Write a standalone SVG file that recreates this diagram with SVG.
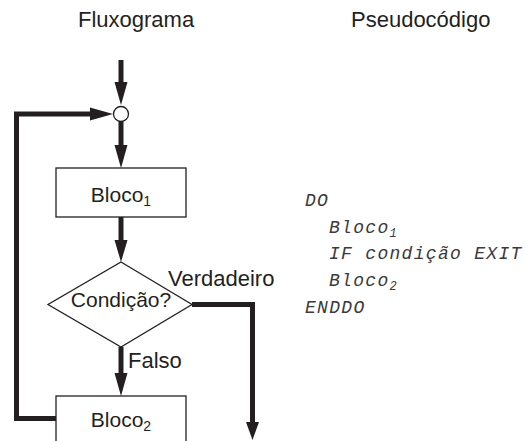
<svg xmlns="http://www.w3.org/2000/svg" width="525" height="441" viewBox="0 0 525 441">
  <defs>
    <style>
      .flow { fill: none; stroke: #231f20; stroke-width: 5; stroke-linejoin: miter; stroke-linecap: butt; }
      .shape { fill: #ffffff; stroke: #231f20; stroke-width: 1.3; }
      .head { fill: #231f20; stroke: none; }
      .lbl { font-family: "Liberation Sans", Arial, sans-serif; font-size: 22px; fill: #231f20; }
      .box { font-family: "Liberation Sans", Arial, sans-serif; font-size: 21px; fill: #231f20; text-anchor: middle; }
      .sub { font-size: 14px; }
      .code { font-family: "Liberation Mono", "DejaVu Sans Mono", monospace; font-style: italic; font-size: 18px; letter-spacing: 1.3px; fill: #3a3a3a; }
      .csub { font-size: 12px; }
    </style>
  </defs>

  <!-- column headings -->
  <text class="lbl" x="78" y="27">Fluxograma</text>
  <text class="lbl" x="351" y="27">Pseudocódigo</text>

  <!-- connectors -->
  <g id="connectors">
    <!-- entry into the junction -->
    <line class="flow" x1="121" y1="60" x2="121" y2="84"/>
    <path class="head" d="M114.5,82 L127.5,82 L121,105 Z"/>
    <!-- junction to Bloco1 -->
    <line class="flow" x1="121" y1="121" x2="121" y2="147"/>
    <path class="head" d="M114.5,145 L127.5,145 L121,168 Z"/>
    <!-- Bloco1 to decision -->
    <line class="flow" x1="121" y1="217" x2="121" y2="242"/>
    <path class="head" d="M114.5,240 L127.5,240 L121,262 Z"/>
    <!-- false branch to Bloco2 -->
    <line class="flow" x1="121" y1="347" x2="121" y2="375"/>
    <path class="head" d="M114.5,373 L127.5,373 L121,396 Z"/>
    <!-- true branch exits the loop -->
    <polyline class="flow" points="192,304.5 252.5,304.5 252.5,424"/>
    <path class="head" d="M246,422 L259,422 L252.5,440 Z"/>
    <!-- loop back from Bloco2 to the junction -->
    <polyline class="flow" points="56,418.5 16.5,418.5 16.5,114 92,114"/>
    <path class="head" d="M90,107.5 L90,120.5 L113,114 Z"/>
  </g>

  <!-- junction -->
  <g id="junction">
    <circle class="shape" cx="121" cy="114" r="7.5"/>
  </g>

  <!-- Bloco1 -->
  <g id="bloco1">
    <rect class="shape" x="56" y="168" width="130" height="49"/>
    <text class="box" x="121" y="202">Bloco<tspan class="sub" dy="4">1</tspan></text>
  </g>

  <!-- decision -->
  <g id="condicao">
    <polygon class="shape" points="121,262 192,304.5 121,347 48,304.5"/>
    <text class="box" x="121" y="307" font-size="22">Condição?</text>
  </g>

  <!-- Bloco2 -->
  <g id="bloco2">
    <rect class="shape" x="56" y="396" width="130" height="49"/>
    <text class="box" x="121" y="427">Bloco<tspan class="sub" dy="4">2</tspan></text>
  </g>

  <!-- branch labels -->
  <text class="lbl" x="168" y="286">Verdadeiro</text>
  <text class="lbl" x="128" y="368">Falso</text>

  <!-- pseudocode -->
  <g id="pseudocodigo">
    <text class="code" x="305" y="206">DO</text>
    <text class="code" x="329" y="232.7">Bloco<tspan class="csub" dy="4">1</tspan></text>
    <text class="code" x="329" y="259.3">IF condição EXIT</text>
    <text class="code" x="329" y="286">Bloco<tspan class="csub" dy="4">2</tspan></text>
    <text class="code" x="305" y="312.7">ENDDO</text>
  </g>
</svg>
